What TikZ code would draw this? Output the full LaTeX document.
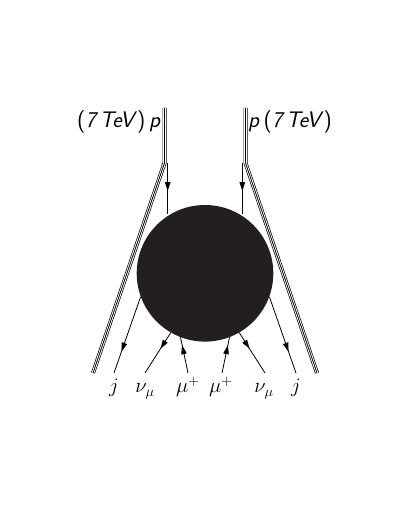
\documentclass[tikz,border=0pt]{standalone}
\usetikzlibrary{arrows.meta,decorations.markings}
\definecolor{blobcol}{HTML}{231F20}
\tikzset{
  tripleline/.style={draw=white, line width=2.6pt, line cap=butt,
    preaction={draw=black, line width=4pt},
    postaction={draw=black, line width=0.8pt}},
  fline/.style={draw=black, line width=0.8pt},
  midarrow/.style={postaction={decorate, decoration={markings,
    mark=at position #1 with {\arrow{Triangle[length=9pt,width=5.5pt]}}}}},
  lbl/.style={anchor=base, inner sep=0pt, font=\fontsize{22}{26}\selectfont},
  toplbl/.style={inner sep=0pt, font=\fontsize{22.5}{26}\selectfont\sffamily},
}
\begin{document}
\begin{tikzpicture}[x=1pt,y=1pt]
\useasboundingbox (0,0) rectangle (407,527);
% proton lines
\coordinate (tLtop) at (164.5,419);
\coordinate (tLbend) at (164.5,364);
\coordinate (tLbot) at (93,154);
\coordinate (tRtop) at (245.5,419);
\coordinate (tRbend) at (245.5,364);
\coordinate (tRbot) at (317,154);
\draw[tripleline] (tLtop) -- (tLbend) -- (tLbot);
\draw[tripleline] (tRtop) -- (tRbend) -- (tRbot);
% quark lines
\coordinate (qLs) at (167.7,364);
\coordinate (qLe) at (167.7,313);
\coordinate (qRs) at (242.3,364);
\coordinate (qRe) at (242.3,313);
\draw[fline, midarrow=0.55] (qLs) -- (qLe);
\draw[fline, midarrow=0.55] (qRs) -- (qRe);
% blob
\node[circle, fill=blobcol, inner sep=0pt, minimum size=136.6pt] (blob) at (205,253.7) {};
% outgoing ends
\coordinate (jL) at (114,154);
\coordinate (nL) at (145,154);
\coordinate (mL) at (188,154);
\coordinate (mR) at (222,154);
\coordinate (nR) at (265,154);
\coordinate (jR) at (296,154);
\draw[fline, midarrow=0.72] (blob.200) -- (jL);
\draw[fline, midarrow=0.4] (blob.240) -- (nL);
\draw[fline, midarrow=0.78] (mL) -- (blob.249);
\draw[fline, midarrow=0.78] (mR) -- (blob.291);
\draw[fline, midarrow=0.4] (blob.300) -- (nR);
\draw[fline, midarrow=0.72] (blob.340) -- (jR);
% labels
\node[lbl] (ljL) at (114,134) {$j$};
\node[lbl] (lnL) at (145,134) {$\nu_\mu$};
\node[lbl] (lmL) at (188,134) {$\mu^+$};
\node[lbl] (lmR) at (221,134) {$\mu^+$};
\node[lbl] (lnR) at (264,134) {$\nu_\mu$};
\node[lbl] (ljR) at (296,134) {$j$};
\node[toplbl, anchor=base east] (pL) at (161,399) {(\textit{7\,TeV\/})\,\textit{p}};
\node[toplbl, anchor=base west] (pR) at (248,399) {\textit{p}\,(\textit{7\,TeV\/})};
\end{tikzpicture}
\end{document}
